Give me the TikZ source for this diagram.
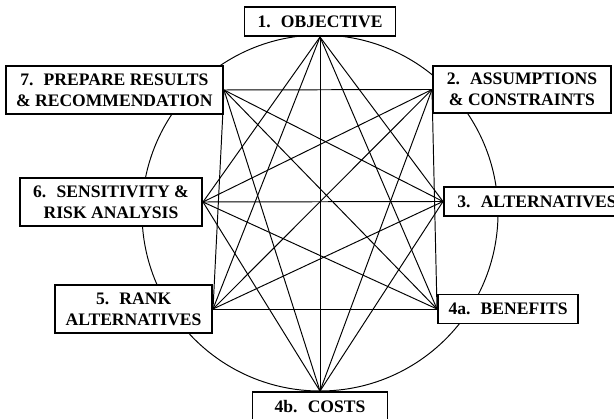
\documentclass[tikz,border=0pt]{standalone}
\usepackage{fontspec}
\setmainfont{Liberation Serif}
\usepackage{tikz}

\begin{document}
\begin{tikzpicture}[box/.style={draw, line width=1.1pt, fill=white, font=\bfseries, align=center, inner xsep=6pt, inner ysep=4.2pt, minimum height=0.58cm}, link/.style={line width=0.55pt}]
\useasboundingbox (0,0) rectangle (12.28,8.38);
\clip (0,0) rectangle (12.28,8.38);
\draw[link] (6.40,4.12) circle (3.56);
% steps round the circle
\node[box, anchor=south, minimum width=3.02cm] (obj) at (6.40,7.64) {1.~ OBJECTIVE};
\node[box, anchor=west, minimum width=3.56cm] (assum) at (8.64,6.59) {2.~ ASSUMPTIONS\\\& CONSTRAINTS};
\node[box, anchor=west, minimum width=3.72cm] (alt) at (8.86,4.35) {3.~ ALTERNATIVES};
\node[box, anchor=west, minimum width=2.72cm] (ben) at (8.74,2.20) {4a.~ BENEFITS};
\node[box, anchor=north, minimum width=2.70cm] (cost) at (6.40,0.56) {4b.~ COSTS};
\node[box, anchor=east, minimum width=3.12cm] (rank) at (4.26,2.20) {5.~ RANK\\ALTERNATIVES};
\node[box, anchor=east, minimum width=3.64cm] (sens) at (4.06,4.34) {6.~ SENSITIVITY \&\\RISK ANALYSIS};
\node[box, anchor=east, minimum width=4.28cm] (prep) at (4.48,6.58) {7.~ PREPARE RESULTS\\\& RECOMMENDATION};
% every step to every step that is not its neighbour
\foreach \a/\b in {obj.south/alt.west, obj.south/ben.west, obj.south/cost.north, obj.south/rank.east, obj.south/sens.east,
  assum.west/ben.west, assum.west/cost.north, assum.west/rank.east, assum.west/sens.east, assum.west/prep.east,
  alt.west/cost.north, alt.west/rank.east, alt.west/sens.east, alt.west/prep.east,
  ben.west/rank.east, ben.west/sens.east, ben.west/prep.east,
  cost.north/sens.east, cost.north/prep.east,
  rank.east/prep.east}
  \draw[link] (\a) -- (\b);
\end{tikzpicture}
\end{document}
